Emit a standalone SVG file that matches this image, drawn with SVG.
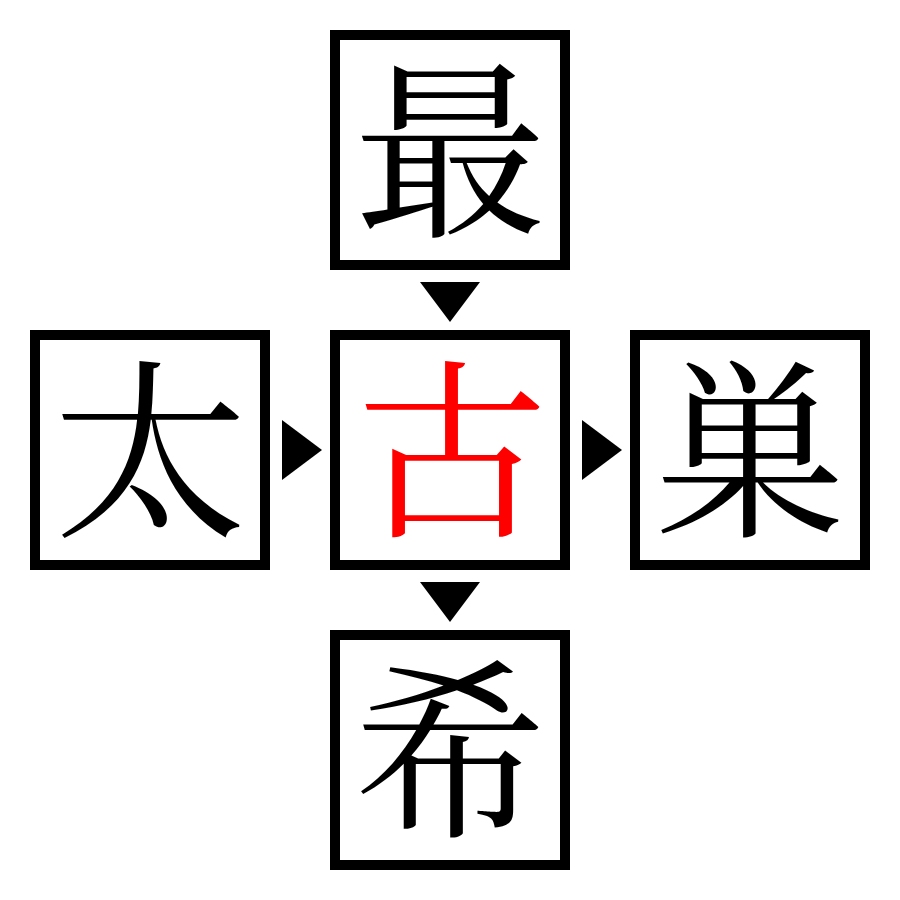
<svg xmlns="http://www.w3.org/2000/svg" width="900" height="900" viewBox="0 0 900 900">
<style>
.box{fill:#fff;stroke:#000;stroke-width:10}
.k{font-family:"Noto Serif CJK JP","Noto Sans CJK JP",serif;font-size:192px;text-anchor:middle;dominant-baseline:central;fill:#000}
.arr{fill:#000}
</style>
<rect width="900" height="900" fill="#fff"/>
<g id="connectors">
<polygon class="arr" points="420,282 480,282 450,322"/>
<polygon class="arr" points="420,582 480,582 450,622"/>
<polygon class="arr" points="282,420 322,450 282,480"/>
<polygon class="arr" points="582,420 622,450 582,480"/>
</g>
<g id="node-top"><rect class="box" x="335" y="35" width="230" height="230"/><text class="k" x="450" y="139">最</text></g>
<g id="node-left"><rect class="box" x="35" y="335" width="230" height="230"/><text class="k" x="150" y="439">太</text></g>
<g id="node-center"><rect class="box" x="335" y="335" width="230" height="230"/><text class="k" x="452" y="439" style="fill:#f00">古</text></g>
<g id="node-right"><rect class="box" x="635" y="335" width="230" height="230"/><text class="k" x="750" y="439">巣</text></g>
<g id="node-bottom"><rect class="box" x="335" y="635" width="230" height="230"/><text class="k" x="450" y="739">希</text></g>
</svg>
